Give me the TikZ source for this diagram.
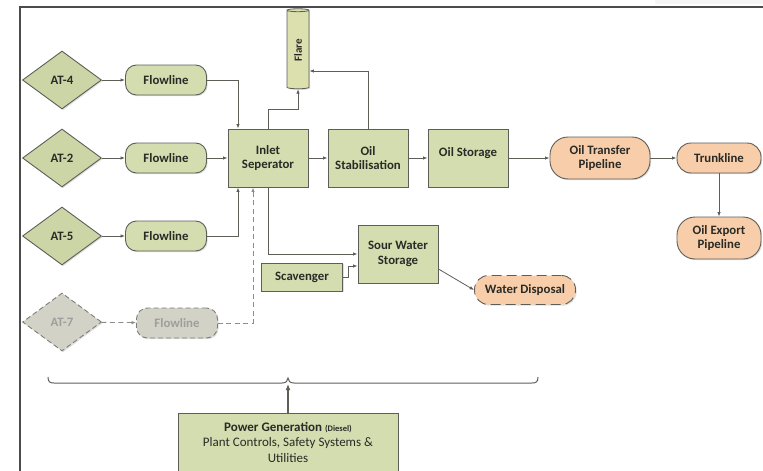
\documentclass[tikz,border=0pt]{standalone}
\usepackage{fontspec}
\setmainfont{Carlito}
\usetikzlibrary{shapes.geometric,arrows.meta,calc,shadows}
\definecolor{gfill}{HTML}{D3DDAF}
\definecolor{dfill}{HTML}{CCD5A6}
\definecolor{ofill}{HTML}{F8CEAA}
\definecolor{grayfill}{HTML}{D2D2C6}
\definecolor{bord}{HTML}{5E5E58}
\definecolor{txt}{HTML}{2A2A26}
\definecolor{flarefill}{HTML}{DCDFAE}
\tikzset{
  shd/.style={drop shadow={opacity=0.25,shadow xshift=1.2pt,shadow yshift=-1.2pt}},
  base/.style={draw=bord,line width=0.9pt,text=txt,font=\bfseries\fontsize{12.8}{14.5}\selectfont,align=center,inner sep=1pt,shd},
  procbox/.style={base,rectangle,fill=gfill,minimum width=80pt,minimum height=58pt},
  flowbox/.style={base,rectangle,rounded corners=11pt,fill=gfill,minimum width=81pt,minimum height=30pt},
  pipebox/.style={base,rectangle,rounded corners=14pt,fill=ofill},
  well/.style={base,diamond,fill=dfill,minimum width=79pt,minimum height=58pt,inner sep=0pt},
  ghost/.style={dashed,dash pattern=on 5pt off 3pt,draw=bord!80,text=black!38,fill=grayfill},
  conn/.style={draw=bord,line width=0.8pt,-{Latex[length=4.5pt,width=3.5pt]}},
  gconn/.style={conn,draw=black!45,dash pattern=on 5pt off 3.5pt},
}
\begin{document}
\begin{tikzpicture}[x=1pt,y=-1pt]
\useasboundingbox (0,0) rectangle (763,471);
\fill[black!4,rounded corners=2pt] (655,-5) rectangle (770,4);
\draw[black!70,line width=1.6pt] (20,471) -- (20,7) -- (764,7);

% wells and flowlines
\node[well] (at4) at (62,80) {AT-4};
\node[well] (at2) at (62,158) {AT-2};
\node[well] (at5) at (62,236) {AT-5};
\node[well,ghost] (at7) at (62,322) {AT-7};
\node[flowbox] (fl4) at (166,80) {Flowline};
\node[flowbox] (fl2) at (166,158) {Flowline};
\node[flowbox] (fl5) at (166,236) {Flowline};
\node[flowbox,ghost] (fl7) at (177,323) {Flowline};

% main process
\node[procbox] (inlet) at (268,158) {Inlet\\Seperator};
\node[procbox] (stab) at (368,158) {Oil\\Stabilisation};
\node[procbox,text height=23pt,text depth=27pt] (store) at (468,158) {Oil Storage};
\node[pipebox,minimum width=100pt,minimum height=42pt,rounded corners=18pt] (otp) at (600,158) {Oil Transfer\\Pipeline};
\node[pipebox,minimum width=84pt,minimum height=30pt] (trunk) at (719,158) {Trunkline};
\node[pipebox,minimum width=84pt,minimum height=42pt,rounded corners=18pt] (oep) at (719,238) {Oil Export\\Pipeline};
\node[cylinder,shape border rotate=90,draw=bord,line width=0.8pt,fill=flarefill,minimum width=22pt,minimum height=80pt,aspect=0.3,inner sep=1pt,text=txt,font=\bfseries\fontsize{11}{12}\selectfont,shd] (flare) at (298,50) {\rotatebox{90}{Flare}};
\node[procbox] (sour) at (398,254) {Sour Water\\Storage};
\node[procbox,minimum width=81pt,minimum height=28pt] (scav) at (302,277) {Scavenger};
\node[pipebox,dashed,dash pattern=on 10pt off 5pt,minimum width=101pt,minimum height=29pt] (wd) at (525,290) {Water Disposal};
\node[procbox,minimum width=220pt,minimum height=58pt,font=\fontsize{13}{15.5}\selectfont] (power) at (288,442) {\textbf{Power Generation} {\bfseries\fontsize{8.5}{9}\selectfont(Diesel)}\\Plant Controls, Safety Systems \&\\Utilities};

% connectors
\draw[conn] (at4) -- (fl4);
\draw[conn] (at2) -- (fl2);
\draw[conn] (at5) -- (fl5);
\draw[gconn] (at7) -- (fl7);
\draw[conn] (fl4.east) -| ([xshift=-30pt]inlet.north);
\draw[conn] (fl2) -- (inlet);
\draw[conn] (fl5.east) -| ([xshift=-30pt]inlet.south);
\draw[gconn] (fl7.east) -| ([xshift=-15pt]inlet.south);
\draw[conn] (inlet) -- (stab);
\draw[conn] (stab) -- (store);
\draw[conn] (store) -- (otp);
\draw[conn] (otp) -- (trunk);
\draw[conn] (trunk) -- (oep);
\coordinate (fy) at (0,71);
\draw[conn] (inlet.north) -- ++(0,-19) -| (flare.south);
\draw[conn] (stab.north) |- (flare.east |- fy);
\draw[conn] (inlet.south) |- (sour.west);
\draw[conn] (scav.east) -- ++(5,0) |- ([yshift=-12pt]sour.west);
\draw[conn] ([yshift=-15pt]sour.east) -- (wd.west);

% brace
\coordinate (bmid) at (288,378);
\draw[bord,line width=1pt] (48,377) .. controls (48,382) and (50,383) .. (54,383) -- (282,383)
  .. controls (286,383) and (288,381) .. (bmid) .. controls (288,381) and (290,383) .. (294,383)
  -- (532,383) .. controls (536,383) and (538,382) .. (538,377);
\draw[conn,line width=1.2pt,-{Latex[length=6pt,width=5pt]}] (power.north) -- ([yshift=-6pt]bmid);
\end{tikzpicture}
\end{document}
